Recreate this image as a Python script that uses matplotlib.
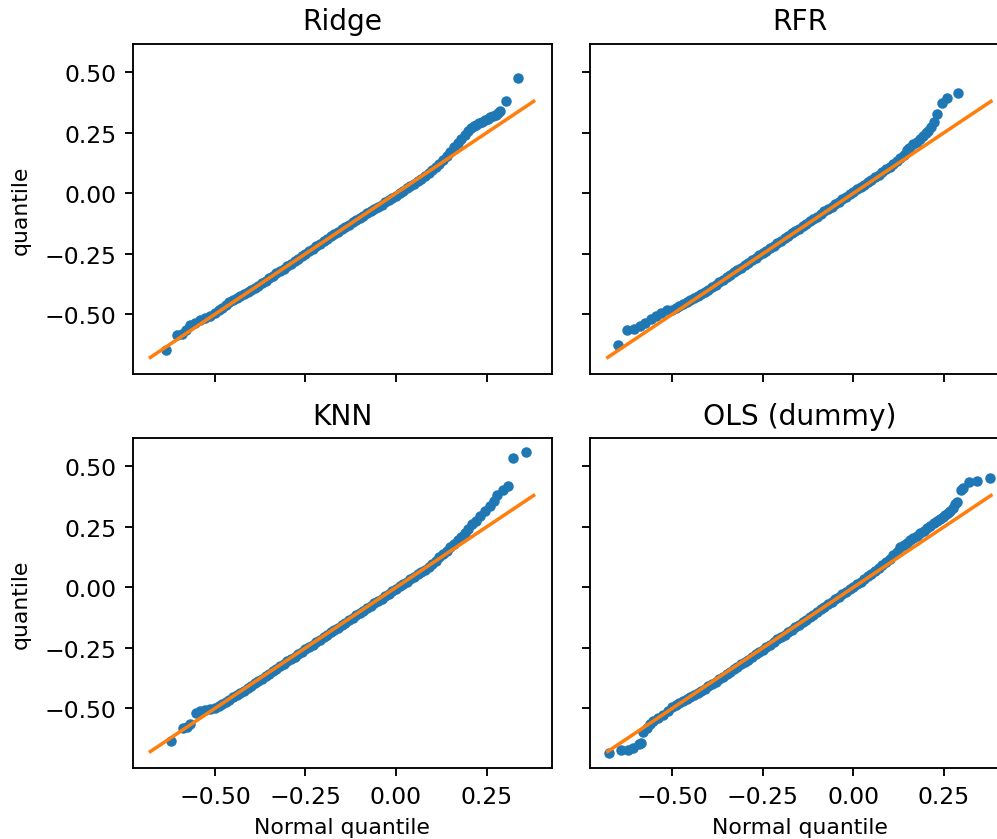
import numpy as np
import matplotlib
matplotlib.use("Agg")
import matplotlib.pyplot as plt

# shared grid of normal quantiles for the dense middle of every panel
band_x = [-0.50, -0.49, -0.48, -0.47, -0.46, -0.45, -0.44, -0.43, -0.42, -0.41, -0.40,
          -0.39, -0.38, -0.37, -0.36, -0.35, -0.34, -0.33, -0.32, -0.31, -0.30,
          -0.29, -0.28, -0.27, -0.26, -0.25, -0.24, -0.23, -0.22, -0.21, -0.20,
          -0.19, -0.18, -0.17, -0.16, -0.15, -0.14, -0.13, -0.12, -0.11, -0.10,
          -0.09, -0.08, -0.07, -0.06, -0.05, -0.04, -0.03, -0.02, -0.01, 0.00,
          0.01, 0.02, 0.03, 0.04, 0.05, 0.06, 0.07, 0.08, 0.09, 0.10, 0.11, 0.12]

# Ridge
ridge_lo_x = [-0.635, -0.604, -0.592, -0.580, -0.569, -0.555, -0.541, -0.527, -0.514]
ridge_lo_y = [-0.649, -0.587, -0.580, -0.566, -0.545, -0.535, -0.525, -0.515, -0.507]
ridge_band_y = [-0.493, -0.484, -0.474, -0.462, -0.450, -0.441, -0.433, -0.425, -0.418, -0.410, -0.401,
                -0.392, -0.382, -0.372, -0.362, -0.352, -0.342, -0.331, -0.321, -0.311, -0.301,
                -0.291, -0.281, -0.270, -0.260, -0.250, -0.240, -0.230, -0.219, -0.209, -0.198,
                -0.188, -0.178, -0.168, -0.158, -0.148, -0.138, -0.129, -0.119, -0.110, -0.101,
                -0.092, -0.083, -0.074, -0.065, -0.056, -0.047, -0.038, -0.029, -0.019, -0.010,
                0.000, 0.010, 0.020, 0.030, 0.040, 0.050, 0.061, 0.072, 0.083, 0.095, 0.108, 0.122]
ridge_hi_x = [0.13, 0.14, 0.15, 0.16, 0.17, 0.18, 0.19, 0.20, 0.207, 0.214, 0.222,
              0.23, 0.238, 0.245, 0.253, 0.26, 0.267, 0.275, 0.281, 0.287, 0.304, 0.336]
ridge_hi_y = [0.138, 0.155, 0.172, 0.190, 0.207, 0.224, 0.241, 0.258, 0.268, 0.277, 0.284,
              0.290, 0.296, 0.301, 0.308, 0.314, 0.320, 0.325, 0.331, 0.339, 0.380, 0.475]

# RFR
rfr_lo_x = [-0.650, -0.625, -0.605, -0.590, -0.575, -0.560, -0.545, -0.530, -0.515]
rfr_lo_y = [-0.625, -0.565, -0.560, -0.548, -0.535, -0.521, -0.507, -0.494, -0.481]
rfr_band_y = [-0.484, -0.475, -0.466, -0.457, -0.448, -0.440, -0.432, -0.424, -0.416, -0.407, -0.398,
              -0.388, -0.378, -0.367, -0.357, -0.347, -0.337, -0.327, -0.317, -0.307, -0.297,
              -0.287, -0.277, -0.267, -0.257, -0.247, -0.237, -0.226, -0.216, -0.206, -0.196,
              -0.186, -0.176, -0.166, -0.156, -0.146, -0.136, -0.126, -0.116, -0.106, -0.096,
              -0.085, -0.075, -0.065, -0.055, -0.045, -0.035, -0.025, -0.014, -0.004, 0.006,
              0.016, 0.026, 0.036, 0.046, 0.057, 0.067, 0.077, 0.088, 0.099, 0.110, 0.121, 0.132]
rfr_hi_x = [0.13, 0.14, 0.147, 0.155, 0.165, 0.175, 0.184, 0.192, 0.200, 0.207, 0.215,
            0.224, 0.232, 0.244, 0.260, 0.290]
rfr_hi_y = [0.145, 0.160, 0.177, 0.188, 0.203, 0.214, 0.225, 0.238, 0.250, 0.259, 0.272,
            0.296, 0.327, 0.372, 0.393, 0.415]

# KNN
knn_lo_x = [-0.622, -0.589, -0.578, -0.569, -0.551, -0.540, -0.527, -0.514]
knn_lo_y = [-0.633, -0.583, -0.575, -0.563, -0.519, -0.512, -0.508, -0.504]
knn_band_y = [-0.497, -0.489, -0.481, -0.472, -0.464, -0.455, -0.446, -0.437, -0.427, -0.417, -0.407,
              -0.397, -0.387, -0.377, -0.367, -0.357, -0.346, -0.336, -0.326, -0.316, -0.306,
              -0.296, -0.286, -0.276, -0.266, -0.256, -0.246, -0.236, -0.226, -0.216, -0.206,
              -0.196, -0.186, -0.176, -0.166, -0.156, -0.146, -0.136, -0.126, -0.116, -0.106,
              -0.096, -0.086, -0.076, -0.066, -0.056, -0.046, -0.036, -0.026, -0.016, -0.006,
              0.004, 0.014, 0.024, 0.034, 0.044, 0.054, 0.064, 0.074, 0.085, 0.097, 0.110, 0.125]
knn_hi_x = [0.13, 0.14, 0.15, 0.16, 0.17, 0.18, 0.19, 0.20, 0.21, 0.22, 0.232,
            0.245, 0.26, 0.27, 0.279, 0.296, 0.309, 0.323, 0.359]
knn_hi_y = [0.140, 0.152, 0.165, 0.180, 0.195, 0.210, 0.225, 0.242, 0.260, 0.275, 0.294,
            0.314, 0.335, 0.357, 0.380, 0.404, 0.420, 0.536, 0.558]

# OLS (dummy)
ols_lo_x = [-0.675, -0.642, -0.621, -0.608, -0.592, -0.586, -0.580, -0.571, -0.562,
            -0.552, -0.538, -0.525, -0.511]
ols_lo_y = [-0.684, -0.674, -0.674, -0.663, -0.649, -0.642, -0.598, -0.580, -0.566,
            -0.553, -0.540, -0.526, -0.512]
ols_band_y = [-0.494, -0.487, -0.479, -0.471, -0.463, -0.455, -0.446, -0.437, -0.428, -0.419, -0.409,
              -0.399, -0.389, -0.379, -0.369, -0.359, -0.349, -0.339, -0.329, -0.318, -0.308,
              -0.298, -0.288, -0.277, -0.267, -0.257, -0.246, -0.236, -0.226, -0.215, -0.205,
              -0.195, -0.185, -0.174, -0.164, -0.154, -0.143, -0.133, -0.123, -0.112, -0.102,
              -0.091, -0.081, -0.070, -0.060, -0.049, -0.039, -0.028, -0.018, -0.007, 0.003,
              0.014, 0.024, 0.035, 0.046, 0.057, 0.068, 0.079, 0.091, 0.104, 0.118, 0.132, 0.148]
ols_hi_x = [0.13, 0.139, 0.147, 0.156, 0.166, 0.175, 0.185, 0.194, 0.203, 0.212, 0.222,
            0.231, 0.24, 0.247, 0.254, 0.261, 0.267, 0.274, 0.281, 0.287, 0.297, 0.304,
            0.320, 0.341, 0.378]
ols_hi_y = [0.165, 0.175, 0.185, 0.194, 0.203, 0.214, 0.225, 0.235, 0.245, 0.255, 0.265,
            0.274, 0.283, 0.291, 0.298, 0.306, 0.314, 0.329, 0.344, 0.355, 0.403, 0.410,
            0.434, 0.440, 0.451]

titles = ["Ridge", "RFR", "KNN", "OLS (dummy)"]
panels = [
    (ridge_lo_x, ridge_lo_y, ridge_band_y, ridge_hi_x, ridge_hi_y),
    (rfr_lo_x, rfr_lo_y, rfr_band_y, rfr_hi_x, rfr_hi_y),
    (knn_lo_x, knn_lo_y, knn_band_y, knn_hi_x, knn_hi_y),
    (ols_lo_x, ols_lo_y, ols_band_y, ols_hi_x, ols_hi_y),
]

# reference line y = x over the pooled quantile range
ref_line = [-0.678, 0.380]

fig, axes = plt.subplots(2, 2, sharex=True, sharey=True,
                         figsize=(997 / 169, 840 / 169), dpi=169)
fig.subplots_adjust(left=0.1331, right=1.0121, bottom=0.0842, top=0.947,
                    wspace=0.0914, hspace=0.192)

for ax, title, (lo_x, lo_y, band_y, hi_x, hi_y) in zip(axes.flat, titles, panels):
    qx = np.array(lo_x + band_x + hi_x)
    qy = np.array(lo_y + band_y + hi_y)
    ax.scatter(qx, qy, s=12, color="tab:blue", zorder=2)
    ax.plot(ref_line, ref_line, color="tab:orange", zorder=3)
    ax.set_title(title)

axes[0, 0].set_xlim(-0.727, 0.430)
axes[0, 0].set_ylim(-0.7475, 0.619)
axes[0, 0].set_xticks([-0.5, -0.25, 0.0, 0.25])
axes[0, 0].set_yticks([-0.5, -0.25, 0.0, 0.25, 0.5])

for ax in axes[1, :]:
    ax.set_xlabel("Normal quantile", fontsize=9.3)
for ax in axes[:, 0]:
    ax.set_ylabel("quantile", fontsize=9.3, labelpad=6)

fig.savefig("out.png", dpi=169)
